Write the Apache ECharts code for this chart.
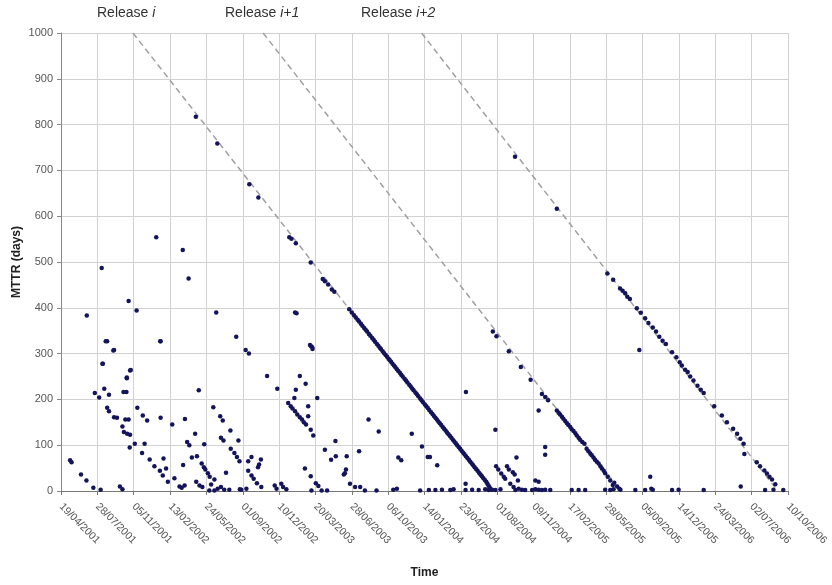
<!DOCTYPE html>
<html>
<head>
<meta charset="utf-8">
<script src="https://cdn.jsdelivr.net/npm/echarts@6/dist/echarts.min.js"></script>
<style>
html,body{margin:0;padding:0;background:#fff;}
#chart{width:832px;height:585px;}
</style>
</head>
<body>
<div id="chart"></div>
<script>
// x values: days since 19/04/2001; y values: MTTR (days)
var tickLabels = ['19/04/2001','28/07/2001','05/11/2001','13/02/2002','24/05/2002','01/09/2002','10/12/2002','20/03/2003','28/06/2003','06/10/2003','14/01/2004','23/04/2004','01/08/2004','09/11/2004','17/02/2005','28/05/2005','05/09/2005','14/12/2005','24/03/2006','02/07/2006','10/10/2006'];

var releaseNames = ['i', 'i+1', 'i+2'];

// dashed reference lines (start / end of each release)
var releaseLine1 = [[198,1000],[1185,0]];
var releaseLine2 = [[556,1000],[1540,0]];
var releaseLine3 = [[992,1000],[1972,0]];

// scattered bugs, mostly small MTTR
var scatteredBugs = [
[25,67],[29,63],[55,36],[70,23],[89,7],[109,3],[162,10],[169,4],
[93,214],[105,204],[119,223],[132,210],[114,278],[123,327],[127,327],[144,307],
[127,182],[132,174],[146,161],[154,160],[169,141],[177,156],[186,156],[173,129],
[182,125],[190,123],[189,95],[203,103],[172,216],[180,216],[181,246],[190,263],
[273,327],[210,182],[225,165],[237,154],[230,103],[223,83],[244,69],[257,54],
[272,44],[280,34],[282,71],[274,160],[289,49],[294,20],[306,145],[312,28],
[326,10],[332,7],[340,12],[336,57],[341,157],[347,107],[353,100],[360,73],
[369,125],[374,76],[379,220],[387,60],[393,52],[397,47],[404,39],[409,31],
[394,102],[372,20],[381,12],[389,9],[413,14],[419,183],[438,163],[445,154],
[466,132],[440,116],[447,110],[454,40],[422,25],[431,5],[440,9],[449,3],
[463,3],[467,92],[477,83],[484,74],[491,65],[488,110],[492,4],[408,1],[422,1],
[71,383],[112,487],[115,278],[146,308],[186,415],[208,394],[192,264],[181,248],
[262,554],[335,526],[351,464],[274,327],[427,390],[482,337],
[508,308],[517,300],[688,316],[692,310],[567,251],[595,223],[657,251],[673,234],
[646,221],[642,203],[705,203],[625,192],[632,185],[637,180],[644,174],[650,167],
[657,161],[663,156],[668,150],[674,145],[680,185],[680,163],[687,134],[694,121],
[726,90],[755,109],[743,68],[756,76],[786,76],[820,87],[846,156],[874,130],
[965,125],[993,97],[1009,74],[928,73],[936,67],[524,74],[515,65],[545,58],
[542,52],[550,69],[515,44],[524,34],[530,27],[539,17],[551,9],[588,12],
[593,5],[606,16],[611,9],[620,4],[671,49],[687,32],[701,17],[708,11],
[689,1],[717,1],[732,1],[784,47],[781,39],[778,36],[795,16],[809,9],
[823,9],[836,1],[868,1],[914,3],[924,5],[988,1],[510,5],[496,3],
[644,390],[648,388],[685,319],[691,314],
[1114,216],[1015,74],[1035,56],[1195,134],[1197,54],[1203,47],[1227,54],[1232,47],
[1211,38],[1218,31],[1243,41],[1248,36],[1253,73],[1222,27],[1236,16],[1245,9],
[1257,23],[1259,5],[1314,176],[1332,96],[1332,79],[1305,23],[1314,20],[1113,16],
[1012,2],[1030,2],[1048,3],[1071,2],[1080,4],[1113,2],[1131,3],[1149,2],
[1167,4],[1177,2],[1186,3],[1195,2],[1209,4],[1250,2],[1268,3],[1277,2],
[1296,2],[1305,4],[1314,3],[1323,2],[1332,3],[1346,2],[1405,2],[1424,2],
[1442,2],[1497,3],[1511,2],[1520,4],[1539,3],[1580,2],[1607,2],[1621,31],
[1624,5],[1628,3],[1681,2],[1699,3],[1768,2],[1870,10],[1937,2],[1960,3],
[1987,2],[1591,308],[1880,81]
];

// bugs lying along the release i line
var release1Bugs = [
[371,817],[430,759],[518,670],[543,641],[628,554],[634,551],[646,541],[687,499],
[720,463],[726,458],[735,451],[745,440],[752,435],
[793,397],[800,390],[806,384],[811,379],[816,374],[820,370],[825,365],[829,361],
[834,356],[838,352],[842,348],[847,343],[851,339],[856,334],[860,330],[864,326],
[869,321],[873,317],[877,313],[880,310],[885,305],[889,301],[893,297],[897,293],
[901,289],[904,286],[908,282],[912,278],[916,274],[920,270],[924,266],[928,262],
[932,258],[936,254],[940,250],[945,245],[949,241],[953,237],[958,232],[962,228],
[966,224],[970,220],[975,215],[979,211],[983,207],[988,202],[992,198],[996,194],
[1001,189],[1005,185],[1009,181],[1013,177],[1018,172],[1022,168],[1026,164],[1030,160],
[1034,156],[1038,152],[1042,148],[1046,144],[1050,140],[1054,136],[1058,132],[1062,128],
[1066,124],[1070,120],[1074,116],[1078,112],[1082,108],[1086,104],[1090,100],[1094,96],
[1098,92],[1102,88],[1106,84],[1110,80],[1114,76],[1118,72],[1122,68],[1126,64],
[1130,60],[1134,56],[1138,52],[1142,48],[1146,44],[1150,40],[1154,36],[1158,32],
[1162,28],[1166,24],[1170,20],[1173,16],[1176,12],[1179,8],[1182,4]
];

// bugs lying along the release i+1 line
var release2Bugs = [
[1188,348],[1198,338],[1232,305],[1265,271],[1292,243],[1323,212],[1332,205],[1340,198],
[1364,176],[1369,171],[1373,167],[1378,162],[1382,158],[1387,153],[1392,148],[1396,144],
[1401,140],[1405,135],[1410,131],[1415,126],[1419,121],[1424,116],[1428,112],[1434,107],
[1440,103],[1446,92],[1451,87],[1456,82],[1460,78],[1465,73],[1469,68],[1474,64],
[1479,60],[1484,54],[1488,49],[1493,44],[1497,39],[1504,31],[1511,23],[1518,13],
[1522,18],[1530,10],[1536,5]
];

// bugs lying along the release i+2 line
var release3Bugs = [
[1249,730],[1364,616],[1503,475],[1519,461],[1538,442],[1545,437],[1552,432],[1558,424],
[1565,419],[1584,399],[1595,389],[1607,377],[1616,367],[1628,357],[1637,348],[1646,337],
[1655,328],[1664,321],[1681,303],[1693,292],[1702,281],[1708,274],[1717,265],[1724,260],
[1731,250],[1740,241],[1751,230],[1760,221],[1768,214],[1797,185],[1818,165],[1832,150],
[1849,136],[1860,125],[1869,114],[1878,103],[1914,63],[1923,54],[1935,45],[1942,38],
[1949,31],[1956,25],[1965,15]
];

var FONT = '"Liberation Sans", Arial, sans-serif';
var DOT = '#14145a';

function dotSeries(data) {
  return {
    type: 'scatter', data: data, symbol: 'circle', symbolSize: 4.5,
    itemStyle: { color: DOT, opacity: 1 }, silent: true, z: 5
  };
}
function lineSeries(data) {
  return {
    type: 'line', data: data, symbol: 'none', silent: true, z: 3,
    lineStyle: { color: '#a0a0a0', width: 1.5, type: [6, 4] }
  };
}
function releaseText(name) {
  return '{a|Release }{b|' + name + '}';
}
var releaseRich = {
  a: { fontSize: 14, fontFamily: FONT, fill: '#333' },
  b: { fontSize: 14, fontFamily: FONT, fontStyle: 'italic', fill: '#333' }
};

var chart = echarts.init(document.getElementById('chart'), null, { renderer: 'canvas' });
chart.setOption({
  backgroundColor: '#ffffff',
  animation: false,
  textStyle: { fontFamily: FONT },
  grid: { left: 61, right: 44, top: 33, bottom: 94, containLabel: false, outerBoundsMode: 'none' },
  xAxis: {
    type: 'value', min: 0, max: 2000, interval: 100,
    name: 'Time', nameLocation: 'middle', nameGap: 76, nameMoveOverlap: false,
    nameTextStyle: { fontFamily: FONT, fontSize: 12, fontWeight: 'bold', color: '#222' },
    axisLine: { show: true, lineStyle: { color: '#777', width: 1 } },
    axisTick: { show: true, length: 4, lineStyle: { color: '#777' } },
    splitLine: { show: true, lineStyle: { color: '#d2d2d2', width: 1 } },
    axisLabel: {
      rotate: -45, fontSize: 10.5, color: '#555', margin: 14, fontFamily: FONT,
      formatter: function (v) { return tickLabels[Math.round(v / 100)] || ''; }
    }
  },
  yAxis: {
    type: 'value', min: 0, max: 1000, interval: 100,
    name: 'MTTR (days)', nameLocation: 'middle', nameGap: 38, nameRotate: 90, nameMoveOverlap: false,
    nameTextStyle: { fontFamily: FONT, fontSize: 12, fontWeight: 'bold', color: '#222' },
    axisLine: { show: true, lineStyle: { color: '#888', width: 1 } },
    axisTick: { show: true, length: 4, lineStyle: { color: '#888' } },
    splitLine: { show: true, lineStyle: { color: '#d2d2d2', width: 1 } },
    axisLabel: { fontSize: 11, color: '#555', margin: 8, fontFamily: FONT,
      formatter: function (v) { return String(v); } }
  },
  graphic: [
    { type: 'text', left: 97, top: 6, style: { text: releaseText(releaseNames[0]), rich: releaseRich } },
    { type: 'text', left: 225, top: 6, style: { text: releaseText(releaseNames[1]), rich: releaseRich } },
    { type: 'text', left: 361, top: 6, style: { text: releaseText(releaseNames[2]), rich: releaseRich } }
  ],
  series: [
    lineSeries(releaseLine1),
    lineSeries(releaseLine2),
    lineSeries(releaseLine3),
    dotSeries(scatteredBugs),
    dotSeries(release1Bugs),
    dotSeries(release2Bugs),
    dotSeries(release3Bugs)
  ]
});
</script>
</body>
</html>
